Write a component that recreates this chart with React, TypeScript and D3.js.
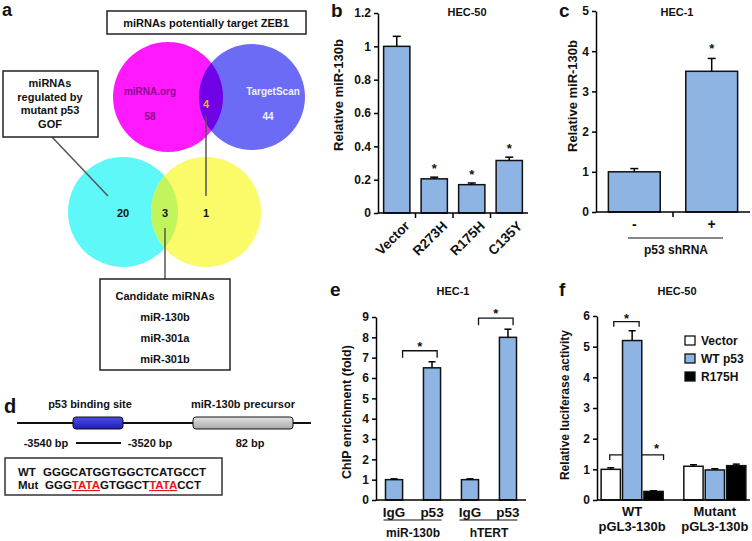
import { useEffect, useRef } from 'react'
import * as d3 from 'd3'

const W = 752
const H = 541
const FONT = '"Liberation Sans", Arial, sans-serif'
const BAR = '#8db4e2'

// panel a - venn counts
const zebSources = ['miRNA.org', 'TargetScan']
const zebCounts = [58, 44]
const zebShared = 4
const gofCounts = [20, 1]
const gofShared = 3
const gofLabel = ['miRNAs', 'regulated by', 'mutant p53', 'GOF']
const candidates = ['miR-130b', 'miR-301a', 'miR-301b']

// panel b
const bCats = ['Vector', 'R273H', 'R175H', 'C135Y']
const bVals = [1.0, 0.205, 0.17, 0.315]
const bErr = [0.06, 0.01, 0.01, 0.02]
const bStar = [false, true, true, true]
const bTicks = [0, 0.2, 0.4, 0.6, 0.8, 1, 1.2]

// panel c
const cCats = ['-', '+']
const cVals = [1.0, 3.5]
const cErr = [0.08, 0.32]
const cStar = [false, true]
const cTicks = [0, 1, 2, 3, 4, 5]

// panel e
const eCats = ['IgG', 'p53', 'IgG', 'p53']
const eGroups = ['miR-130b', 'hTERT']
const eVals = [1.0, 6.5, 1.0, 8.0]
const eErr = [0.04, 0.3, 0.04, 0.4]
const eTicks = [0, 1, 2, 3, 4, 5, 6, 7, 8, 9]

// panel f
const fGroups = ['WT', 'Mutant']
const fSeries = ['Vector', 'WT p53', 'R175H']
const fColors = ['#ffffff', BAR, '#000000']
const fVals = [[1.0, 5.2, 0.28], [1.1, 0.98, 1.12]]
const fErr = [[0.05, 0.32, 0.02], [0.05, 0.04, 0.05]]
const fTicks = [0, 1, 2, 3, 4, 5, 6]

type Sel = d3.Selection<SVGSVGElement, unknown, null, undefined>

function txt(g: any, x: number, y: number, s: string, size = 11, anchor = 'middle') {
  return g.append('text').attr('x', x).attr('y', y).attr('font-size', size)
    .attr('text-anchor', anchor).attr('fill', '#111').text(s)
}

function yAxis(g: any, y: any, x0: number, ticks: number[]) {
  const ax = g.append('g').attr('transform', `translate(${x0},0)`)
    .call(d3.axisLeft(y).tickValues(ticks).tickSize(4).tickSizeOuter(0).tickPadding(3).tickFormat((d: any) => String(d)))
  ax.select('.domain').attr('stroke', '#000').attr('stroke-width', 1.5)
  ax.selectAll('line').attr('stroke', '#000').attr('stroke-width', 1.5)
  ax.selectAll('text').attr('font-size', 12).attr('font-family', FONT).attr('font-weight', 'bold').attr('fill', '#111')
}

function errBar(g: any, cx: number, yTop: number, yErr: number, cap = 4) {
  g.append('line').attr('x1', cx).attr('x2', cx).attr('y1', yTop).attr('y2', yErr).attr('stroke', '#000').attr('stroke-width', 1.5)
  g.append('line').attr('x1', cx - cap).attr('x2', cx + cap).attr('y1', yErr).attr('y2', yErr).attr('stroke', '#000').attr('stroke-width', 1.5)
}

function drawVenn(svg: Sel) {
  const g = svg.append('g')
  txt(g, 2, 16, 'a', 18, 'start')
  const defs = svg.append('defs')
  // top pair
  const m = { x: 168, y: 97, r: 55 }
  const t = { x: 252, y: 97, r: 53 }
  defs.append('clipPath').attr('id', 'clipM').append('circle').attr('cx', m.x).attr('cy', m.y).attr('r', m.r)
  g.append('circle').attr('cx', m.x).attr('cy', m.y).attr('r', m.r).attr('fill', '#ff19ff')
  g.append('circle').attr('cx', t.x).attr('cy', t.y).attr('r', t.r).attr('fill', '#6b6bf5')
  g.append('circle').attr('cx', t.x).attr('cy', t.y).attr('r', t.r).attr('fill', '#7000e6').attr('clip-path', 'url(#clipM)')
  txt(g, 150, 95, zebSources[0], 10).attr('fill', '#8e0a8e')
  txt(g, 150, 120, String(zebCounts[0]), 10).attr('fill', '#8e0a8e')
  txt(g, 273, 95, zebSources[1], 10).attr('fill', '#f0f0ff')
  txt(g, 268, 120, String(zebCounts[1]), 10).attr('fill', '#f0f0ff')
  txt(g, 206, 108, String(zebShared), 11).attr('fill', '#ffb000')
  // bottom pair
  const cy = { x: 123, y: 212, r: 55 }
  const ye = { x: 206, y: 212, r: 55 }
  defs.append('clipPath').attr('id', 'clipC').append('circle').attr('cx', cy.x).attr('cy', cy.y).attr('r', cy.r)
  g.append('circle').attr('cx', cy.x).attr('cy', cy.y).attr('r', cy.r).attr('fill', '#5ff8f8')
  g.append('circle').attr('cx', ye.x).attr('cy', ye.y).attr('r', ye.r).attr('fill', '#fbfb6a')
  g.append('circle').attr('cx', ye.x).attr('cy', ye.y).attr('r', ye.r).attr('fill', '#c2f55c').attr('clip-path', 'url(#clipC)')
  txt(g, 123, 217, String(gofCounts[0]), 11)
  txt(g, 165, 217, String(gofShared), 11)
  txt(g, 206, 217, String(gofCounts[1]), 11)
  // connectors
  const line = (x1: number, y1: number, x2: number, y2: number) =>
    g.append('line').attr('x1', x1).attr('y1', y1).attr('x2', x2).attr('y2', y2).attr('stroke', '#555').attr('stroke-width', 1.5)
  line(52, 137, 108, 196)
  line(206, 116, 206, 196)
  line(165, 228, 165, 279)
  // boxes
  const box = (x: number, y: number, w: number, h: number) =>
    g.append('rect').attr('x', x).attr('y', y).attr('width', w).attr('height', h).attr('fill', '#fff').attr('stroke', '#222').attr('stroke-width', 1.5)
  box(107, 11, 199, 23)
  txt(g, 206, 27, 'miRNAs potentially target ZEB1', 11)
  box(3, 71, 95, 66)
  gofLabel.forEach((s, i) => txt(g, 50, 87 + i * 13.5, s, 11))
  box(100, 279, 130, 91)
  txt(g, 165, 300, 'Candidate miRNAs', 11)
  candidates.forEach((s, i) => txt(g, 165, 321 + i * 21, s, 11))
}

function drawD(svg: Sel) {
  const g = svg.append('g')
  const defs = svg.append('defs')
  const grad = (id: string, a: string, b: string) => {
    const lg = defs.append('linearGradient').attr('id', id).attr('x1', 0).attr('x2', 0).attr('y1', 0).attr('y2', 1)
    lg.append('stop').attr('offset', '0%').attr('stop-color', a)
    lg.append('stop').attr('offset', '100%').attr('stop-color', b)
  }
  grad('gBlue', '#4d4dea', '#1d1db4')
  grad('gGray', '#e2e2e2', '#a9a9a9')
  txt(g, 4, 413, 'd', 20, 'start')
  txt(g, 90, 408, 'p53 binding site', 11)
  txt(g, 243, 408, 'miR-130b precursor', 11)
  g.append('line').attr('x1', 17).attr('x2', 311).attr('y1', 423).attr('y2', 423).attr('stroke', '#111').attr('stroke-width', 2)
  g.append('rect').attr('x', 73).attr('y', 417).attr('width', 50).attr('height', 12).attr('rx', 3)
    .attr('fill', 'url(#gBlue)').attr('stroke', '#111').attr('stroke-width', 1)
  g.append('rect').attr('x', 193).attr('y', 417).attr('width', 100).attr('height', 12).attr('rx', 3)
    .attr('fill', 'url(#gGray)').attr('stroke', '#111').attr('stroke-width', 1)
  txt(g, 46, 447, '-3540 bp', 11)
  g.append('line').attr('x1', 76).attr('x2', 121).attr('y1', 443).attr('y2', 443).attr('stroke', '#111').attr('stroke-width', 2)
  txt(g, 150, 447, '-3520 bp', 11)
  txt(g, 250, 447, '82 bp', 11)
  g.append('rect').attr('x', 5).attr('y', 458).attr('width', 217).attr('height', 37).attr('fill', '#fff').attr('stroke', '#333').attr('stroke-width', 1.5)
  txt(g, 18, 476, 'WT', 11.5, 'start')
  txt(g, 43, 476, 'GGGCATGGTGGCTCATGCCT', 11.5, 'start')
  txt(g, 18, 489, 'Mut', 11.5, 'start')
  const mt = txt(g, 45, 489, '', 11.5, 'start')
  const parts: [string, boolean][] = [['GGG', false], ['TATA', true], ['GTGGCT', false], ['TATA', true], ['CCT', false]]
  parts.forEach(([s, red]) => {
    const ts = mt.append('tspan').text(s)
    if (red) ts.attr('fill', '#e8141c').attr('text-decoration', 'underline')
  })
}

function drawB(svg: Sel) {
  const g = svg.append('g')
  txt(g, 331, 17, 'b', 19, 'start')
  txt(g, 467, 16, 'HEC-50', 11)
  const y = d3.scaleLinear().domain([0, 1.2]).range([213, 13])
  const x = d3.scaleBand<string>().domain(bCats).range([378, 528]).paddingInner(0.3).paddingOuter(0.15)
  const step = x.step()
  bCats.forEach((c, i) => {
    const x0 = x(c)!
    g.append('rect').attr('x', x0).attr('y', y(bVals[i])).attr('width', x.bandwidth()).attr('height', y(0) - y(bVals[i]))
      .attr('fill', BAR).attr('stroke', '#111').attr('stroke-width', 1.5)
    const cx = x0 + x.bandwidth() / 2
    errBar(g, cx, y(bVals[i]), y(bVals[i] + bErr[i]))
    if (bStar[i]) txt(g, cx, y(bVals[i] + bErr[i]) - 4, '*', 13)
    if (i > 0) {
      const bx = x0 - step * 0.15
      g.append('line').attr('x1', bx).attr('x2', bx).attr('y1', y(0)).attr('y2', y(0) + 5).attr('stroke', '#000').attr('stroke-width', 1.5)
    }
    g.append('text').attr('transform', `translate(${cx + 7},${y(0) + 7}) rotate(-45)`)
      .attr('text-anchor', 'end').attr('dominant-baseline', 'hanging').attr('font-size', 13.5).attr('fill', '#111').text(c)
  })
  g.append('line').attr('x1', 378).attr('x2', 528).attr('y1', y(0)).attr('y2', y(0)).attr('stroke', '#000').attr('stroke-width', 1.5)
  yAxis(g, y, 378, bTicks)
  g.append('text').attr('transform', 'translate(343,95) rotate(-90)').attr('text-anchor', 'middle')
    .attr('font-size', 13).attr('fill', '#111').text('Relative miR-130b')
}

function drawC(svg: Sel) {
  const g = svg.append('g')
  txt(g, 559, 17, 'c', 19, 'start')
  txt(g, 677, 16, 'HEC-1', 11)
  const y = d3.scaleLinear().domain([0, 5]).range([212, 11])
  const x = d3.scaleBand<string>().domain(cCats).range([596, 750]).paddingInner(0.33).paddingOuter(0.16)
  cCats.forEach((c, i) => {
    const x0 = x(c)!
    g.append('rect').attr('x', x0).attr('y', y(cVals[i])).attr('width', x.bandwidth()).attr('height', y(0) - y(cVals[i]))
      .attr('fill', BAR).attr('stroke', '#111').attr('stroke-width', 1.5)
    const cx = x0 + x.bandwidth() / 2
    errBar(g, cx, y(cVals[i]), y(cVals[i] + cErr[i]))
    if (cStar[i]) txt(g, cx, y(cVals[i] + cErr[i]) - 5, '*', 13)
    if (i > 0) {
      const bx = x0 - x.step() * 0.165
      g.append('line').attr('x1', bx).attr('x2', bx).attr('y1', y(0)).attr('y2', y(0) + 5).attr('stroke', '#000').attr('stroke-width', 1.5)
    }
    txt(g, cx, y(0) + 17, c, 14)
  })
  g.append('line').attr('x1', 596).attr('x2', 750).attr('y1', y(0)).attr('y2', y(0)).attr('stroke', '#000').attr('stroke-width', 1.5)
  g.append('line').attr('x1', 628).attr('x2', 723).attr('y1', 238).attr('y2', 238).attr('stroke', '#111').attr('stroke-width', 1.2)
  txt(g, 676, 254, 'p53 shRNA', 12)
  yAxis(g, y, 596, cTicks)
  g.append('text').attr('transform', 'translate(577,96) rotate(-90)').attr('text-anchor', 'middle')
    .attr('font-size', 13).attr('fill', '#111').text('Relative miR-130b')
}

function bracket(g: any, x1: number, x2: number, yb: number, drop = 7) {
  g.append('path').attr('d', `M${x1},${yb + drop}V${yb}H${x2}V${yb + drop}`).attr('fill', 'none').attr('stroke', '#111').attr('stroke-width', 1.3)
}

function drawE(svg: Sel) {
  const g = svg.append('g')
  txt(g, 330, 296, 'e', 19, 'start')
  txt(g, 453, 295, 'HEC-1', 11)
  const y = d3.scaleLinear().domain([0, 9]).range([500, 317])
  const idx = eCats.map((_, i) => String(i))
  const x = d3.scaleBand<string>().domain(idx).range([376, 526]).paddingInner(0.55).paddingOuter(0.25)
  const bw = x.bandwidth()
  idx.forEach((k, i) => {
    const x0 = x(k)!
    g.append('rect').attr('x', x0).attr('y', y(eVals[i])).attr('width', bw).attr('height', y(0) - y(eVals[i]))
      .attr('fill', BAR).attr('stroke', '#111').attr('stroke-width', 1.5)
    errBar(g, x0 + bw / 2, y(eVals[i]), y(eVals[i] + eErr[i]), 3.5)
    txt(g, x0 + bw / 2, 517, eCats[i], 13.5)
  })
  eGroups.forEach((grp, j) => {
    const a = x(idx[j * 2])!
    const b = x(idx[j * 2 + 1])!
    const yb = y(eVals[j * 2 + 1] + eErr[j * 2 + 1]) - 11
    bracket(g, a + bw, b + bw * 0.8, yb)
    txt(g, (a + bw + b + bw * 0.8) / 2, yb, '*', 13)
    g.append('line').attr('x1', a - 2).attr('x2', b + bw + 1).attr('y1', 520).attr('y2', 520).attr('stroke', '#111').attr('stroke-width', 1.2)
    txt(g, (a + b + bw) / 2, 537, grp, 12)
  })
  g.append('line').attr('x1', 376).attr('x2', 526).attr('y1', y(0)).attr('y2', y(0)).attr('stroke', '#000').attr('stroke-width', 1.5)
  yAxis(g, y, 376, eTicks)
  g.append('text').attr('transform', 'translate(351,412) rotate(-90)').attr('text-anchor', 'middle')
    .attr('font-size', 12.5).attr('fill', '#111').text('ChIP enrichment (fold)')
}

function drawF(svg: Sel) {
  const g = svg.append('g')
  txt(g, 559, 296, 'f', 19, 'start')
  txt(g, 677, 295, 'HEC-50', 11)
  const y = d3.scaleLinear().domain([0, 6]).range([500, 316])
  const xo = d3.scaleBand<string>().domain(fGroups).range([597, 750]).paddingInner(0.25).paddingOuter(0.05)
  const xi = d3.scaleBand<string>().domain(fSeries).range([0, xo.bandwidth()]).paddingInner(0.1)
  const bw = xi.bandwidth()
  // lower bracket sits behind the bars
  const wt = xo(fGroups[0])!
  const cVec = wt + xi(fSeries[0])! + bw / 2
  const cWt = wt + xi(fSeries[1])! + bw / 2
  const cMut = wt + xi(fSeries[2])! + bw / 2
  const yLow = y(1.47)
  bracket(g, cVec - 1, cMut + 10, yLow, 5)
  txt(g, cMut + 3, yLow - 2, '*', 13)
  fGroups.forEach((grp, j) => {
    const g0 = xo(grp)!
    fSeries.forEach((s, i) => {
      const x0 = g0 + xi(s)!
      const v = fVals[j][i]
      g.append('rect').attr('x', x0).attr('y', y(v)).attr('width', bw).attr('height', y(0) - y(v))
        .attr('fill', fColors[i]).attr('stroke', '#111').attr('stroke-width', 1.5)
      errBar(g, x0 + bw / 2, y(v), y(v + fErr[j][i]), 3.5)
    })
    const cx = g0 + xo.bandwidth() / 2
    txt(g, cx, 516, grp, 13)
    txt(g, cx, 531, 'pGL3-130b', 13)
  })
  const yTop = y(fVals[0][1] + fErr[0][1]) - 9
  bracket(g, cVec + 3, cWt + 7, yTop, 5)
  txt(g, (cVec + cWt + 10) / 2, yTop + 1, '*', 13)
  // legend
  fSeries.forEach((s, i) => {
    g.append('rect').attr('x', 685).attr('y', 336 + i * 18).attr('width', 10).attr('height', 9)
      .attr('fill', fColors[i]).attr('stroke', '#111').attr('stroke-width', 1.3)
    txt(g, 701, 345 + i * 18, s, 12, 'start')
  })
  g.append('line').attr('x1', 597).attr('x2', 750).attr('y1', y(0)).attr('y2', y(0)).attr('stroke', '#000').attr('stroke-width', 1.5)
  yAxis(g, y, 597, fTicks)
  g.append('text').attr('transform', 'translate(569,405) rotate(-90)').attr('text-anchor', 'middle')
    .attr('font-size', 12).attr('fill', '#111').text('Relative luciferase activity')
}

export default function App() {
  const ref = useRef<SVGSVGElement>(null)
  useEffect(() => {
    const svg = d3.select(ref.current!) as Sel
    svg.selectAll('*').remove()
    svg.attr('font-family', FONT).attr('font-weight', 'bold')
    drawVenn(svg)
    drawD(svg)
    drawB(svg)
    drawC(svg)
    drawE(svg)
    drawF(svg)
  }, [])
  return <svg ref={ref} width={W} height={H} style={{ position: 'absolute', left: 0, top: 0, background: '#fff' }} />
}
